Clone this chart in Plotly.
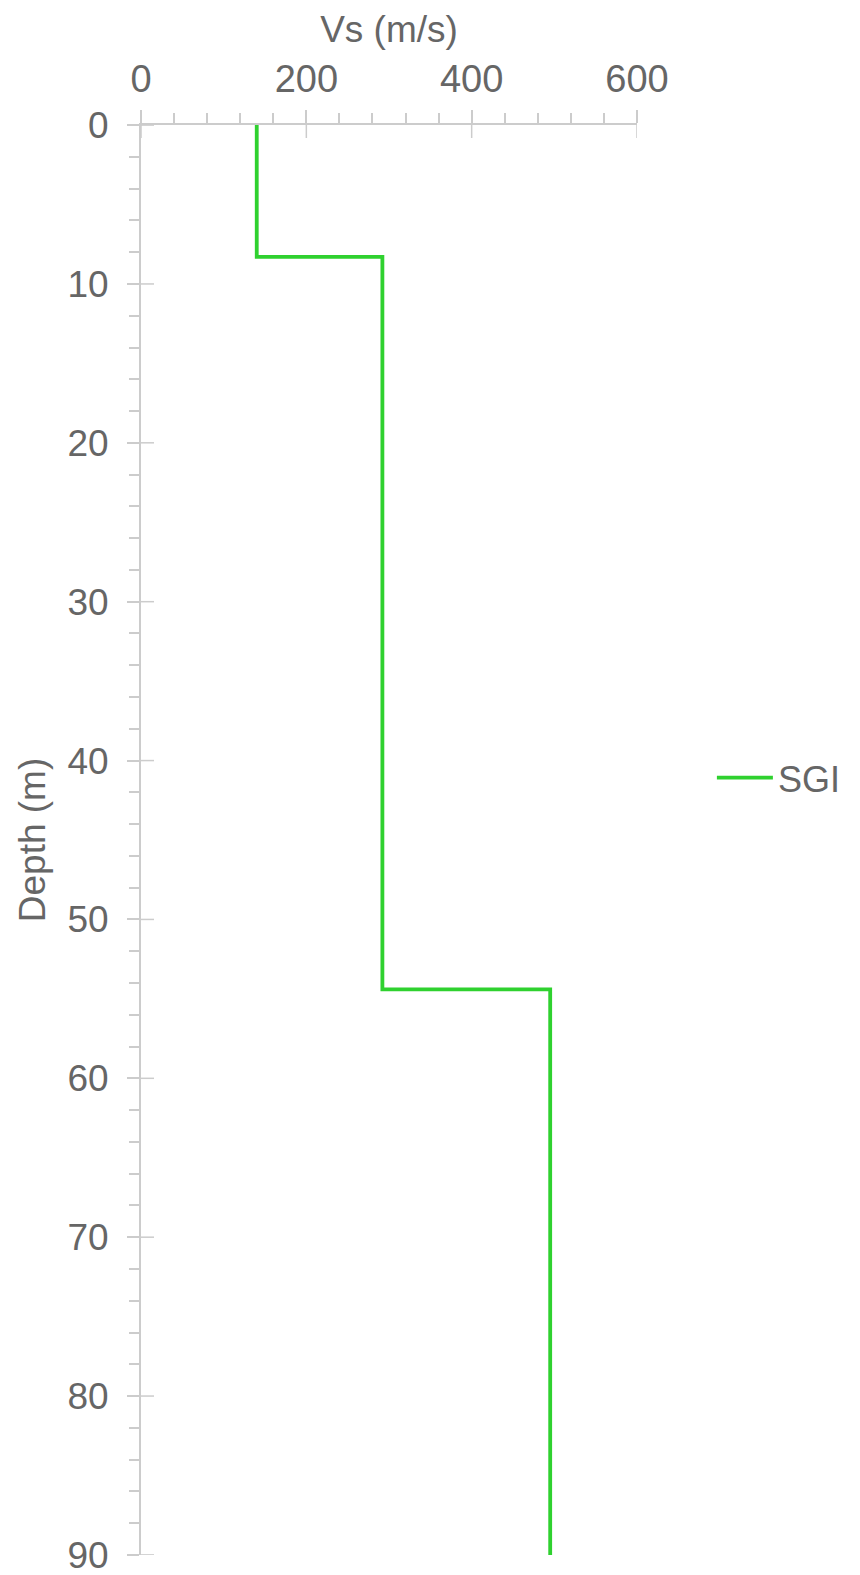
import plotly.graph_objects as go

# Layered shear-wave velocity profile (step function with depth)
layer_vs = [140, 292, 495]          # Vs of each layer, m/s
layer_top = [0, 8.3, 54.4]          # top of each layer, m
profile_bottom = 90                 # bottom of the profile, m

x_ticks = [0, 200, 400, 600]
y_ticks = [0, 10, 20, 30, 40, 50, 60, 70, 80, 90]

# Build the stepped outline from the layer table
vs_pts, depth_pts = [], []
bottoms = layer_top[1:] + [profile_bottom]
for v, top, bot in zip(layer_vs, layer_top, bottoms):
    vs_pts += [v, v]
    depth_pts += [top, bot]

GREY_TXT = "#666666"
GREY_AX = "#cccccc"
FONT = "Liberation Sans, Arial, sans-serif"
INNER_TICK = 13   # px length of the inward half of each major tick

fig = go.Figure()
fig.add_trace(go.Scatter(
    x=vs_pts, y=depth_pts, mode="lines", name="SGI",
    line=dict(color="#2fd12f", width=3.8),
))

# inward halves of the major ticks (pixel-sized, pinned to the axis lines)
for xv in x_ticks:
    fig.add_shape(type="line", xref="x", yref="y domain",
                  ysizemode="pixel", yanchor=1, x0=xv, x1=xv, y0=0, y1=-INNER_TICK,
                  line=dict(color=GREY_AX, width=1.5), layer="above")
for yv in y_ticks:
    fig.add_shape(type="line", xref="x domain", yref="y",
                  xsizemode="pixel", xanchor=0, x0=0, x1=INNER_TICK, y0=yv, y1=yv,
                  line=dict(color=GREY_AX, width=1.5), layer="above")

fig.update_layout(
    width=860, height=1575,
    margin=dict(l=141, r=223, t=125, b=20),
    paper_bgcolor="white", plot_bgcolor="white",
    font=dict(family=FONT, size=37, color=GREY_TXT),
    xaxis=dict(
        range=[-0.01, 600.01], tickvals=x_ticks, showgrid=False,
        zeroline=False, automargin=False, side="top",
        showline=True, linecolor=GREY_AX, linewidth=2,
        ticks="outside", ticklen=13, tickwidth=1.5, tickcolor=GREY_AX,
        minor=dict(dtick=40, ticks="outside", ticklen=10, tickwidth=1.5, tickcolor=GREY_AX),
        tickfont=dict(size=38, color=GREY_TXT), ticklabelstandoff=3,
        title=dict(text="Vs (m/s)", font=dict(size=37, color=GREY_TXT), standoff=4),
    ),
    yaxis=dict(
        range=[90.005, -0.005], tickvals=y_ticks, showgrid=False,
        zeroline=False, automargin=False,
        showline=True, linecolor=GREY_AX, linewidth=2,
        ticks="outside", ticklen=12, tickwidth=1.5, tickcolor=GREY_AX,
        minor=dict(dtick=2, ticks="outside", ticklen=10, tickwidth=1.5, tickcolor=GREY_AX),
        tickfont=dict(size=37, color=GREY_TXT),
        ticklabelstandoff=11, ticklabeloverflow="allow",
        title=dict(text="Depth (m)", font=dict(size=37, color=GREY_TXT), standoff=10),
    ),
    legend=dict(x=1.151, y=0.5436, xanchor="left", yanchor="middle",
                font=dict(size=36, color=GREY_TXT), itemwidth=56,
                bgcolor="rgba(0,0,0,0)"),
    showlegend=True,
)

fig.write_html("out.html")
